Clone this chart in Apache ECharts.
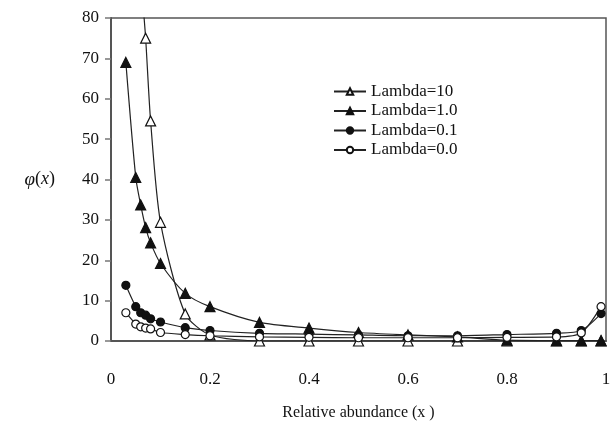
<!DOCTYPE html>
<html>
<head>
<meta charset="utf-8">
<script src="https://cdn.jsdelivr.net/npm/echarts@6/dist/echarts.min.js"></script>
<style>
	html, body { margin: 0; padding: 0; background: #fff; }
	#chart { width: 610px; height: 422px; }
</style>
</head>
<body>
<div id="chart"></div>
<script>
// relative abundance x, shared by all series
const xValues = [0.03, 0.05, 0.06, 0.07, 0.08, 0.1, 0.15, 0.2, 0.3, 0.4, 0.5, 0.6, 0.7, 0.8, 0.9, 0.95, 0.99];
const lambda10 = [300, 150, 92, 75, 54.5, 29.4, 6.7, 1.5, 0, 0, 0, 0, 0, 0, 0, 0, 0];
const lambda1 = [69, 40.5, 33.7, 28.1, 24.3, 19.2, 11.8, 8.5, 4.6, 3.2, 2.1, 1.5, 1.0, 0.2, 0.1, 0.1, 0.1];
const lambda01 = [13.8, 8.5, 7.0, 6.4, 5.5, 4.7, 3.3, 2.6, 1.9, 1.7, 1.5, 1.3, 1.3, 1.6, 1.9, 2.6, 6.8];
const lambda0 = [7.0, 4.2, 3.5, 3.2, 3.0, 2.1, 1.6, 1.3, 1.0, 0.9, 0.8, 0.8, 0.8, 0.9, 1.0, 2.0, 8.5];
const seriesNames = ["Lambda=10", "Lambda=1.0", "Lambda=0.1", "Lambda=0.0"];

const font = "'Liberation Serif', 'DejaVu Serif', serif";

function pairs(ys) {
	return xValues.map((x, i) => [x, ys[i]]);
}

function makeSeries(name, ys, symbol, filled, size) {
	return {
		name: name,
		type: "line",
		data: pairs(ys),
		smooth: 0.25,
		clip: true,
		symbol: symbol,
		symbolSize: size,
		lineStyle: {color: "#222", width: 1.2},
		itemStyle: {
			color: filled ? "#111" : "#fff",
			borderColor: "#111",
			borderWidth: 1.2
		}
	};
}

const myChart = echarts.init(document.getElementById("chart"));
const option = {
	animation: false,
	backgroundColor: "#fff",
	grid: {left: 111, right: 4, top: 18, bottom: 81, outerBoundsMode: "none", containLabel: false},
	legend: {
		orient: "vertical",
		left: 328,
		top: 78,
		itemWidth: 32,
		itemHeight: 8,
		itemGap: 2.5,
		data: seriesNames,
		textStyle: {fontFamily: font, fontSize: 17, color: "#111"}
	},
	xAxis: {
		type: "value",
		min: 0,
		max: 1,
		interval: 0.2,
		name: "Relative abundance (x )",
		nameLocation: "middle",
		nameGap: 64,
		nameTextStyle: {fontFamily: font, fontSize: 16, color: "#111"},
		axisLine: {lineStyle: {color: "#555", width: 2}},
		axisTick: {show: false},
		splitLine: {show: false},
		axisLabel: {fontFamily: font, fontSize: 17, color: "#111", margin: 30}
	},
	yAxis: {
		type: "value",
		min: 0,
		max: 80,
		interval: 10,
		name: "{p|φ}({i|x})",
		nameLocation: "middle",
		nameRotate: 0,
		nameGap: 56,
		nameTextStyle: {
			fontFamily: font,
			fontSize: 18,
			color: "#111",
			rich: {
				p: {fontFamily: font, fontSize: 19, fontStyle: "italic", color: "#111"},
				i: {fontFamily: font, fontSize: 18, fontStyle: "italic", color: "#111"}
			}
		},
		axisLine: {show: true, lineStyle: {color: "#555", width: 2}},
		axisTick: {show: true, length: 6, lineStyle: {color: "#777", width: 1.5}},
		splitLine: {show: false},
		axisLabel: {fontFamily: font, fontSize: 17, color: "#111", margin: 12}
	},
	graphic: [{
		type: "rect",
		shape: {x: 111, y: 18, width: 495, height: 323},
		style: {fill: "none", stroke: "#555", lineWidth: 1.5},
		silent: true,
		z: 0
	}],
	series: [
		makeSeries(seriesNames[0], lambda10, "triangle", false, 10),
		makeSeries(seriesNames[1], lambda1, "triangle", true, 10),
		makeSeries(seriesNames[2], lambda01, "circle", true, 8),
		makeSeries(seriesNames[3], lambda0, "circle", false, 8)
	]
};
myChart.setOption(option);
</script>
</body>
</html>
